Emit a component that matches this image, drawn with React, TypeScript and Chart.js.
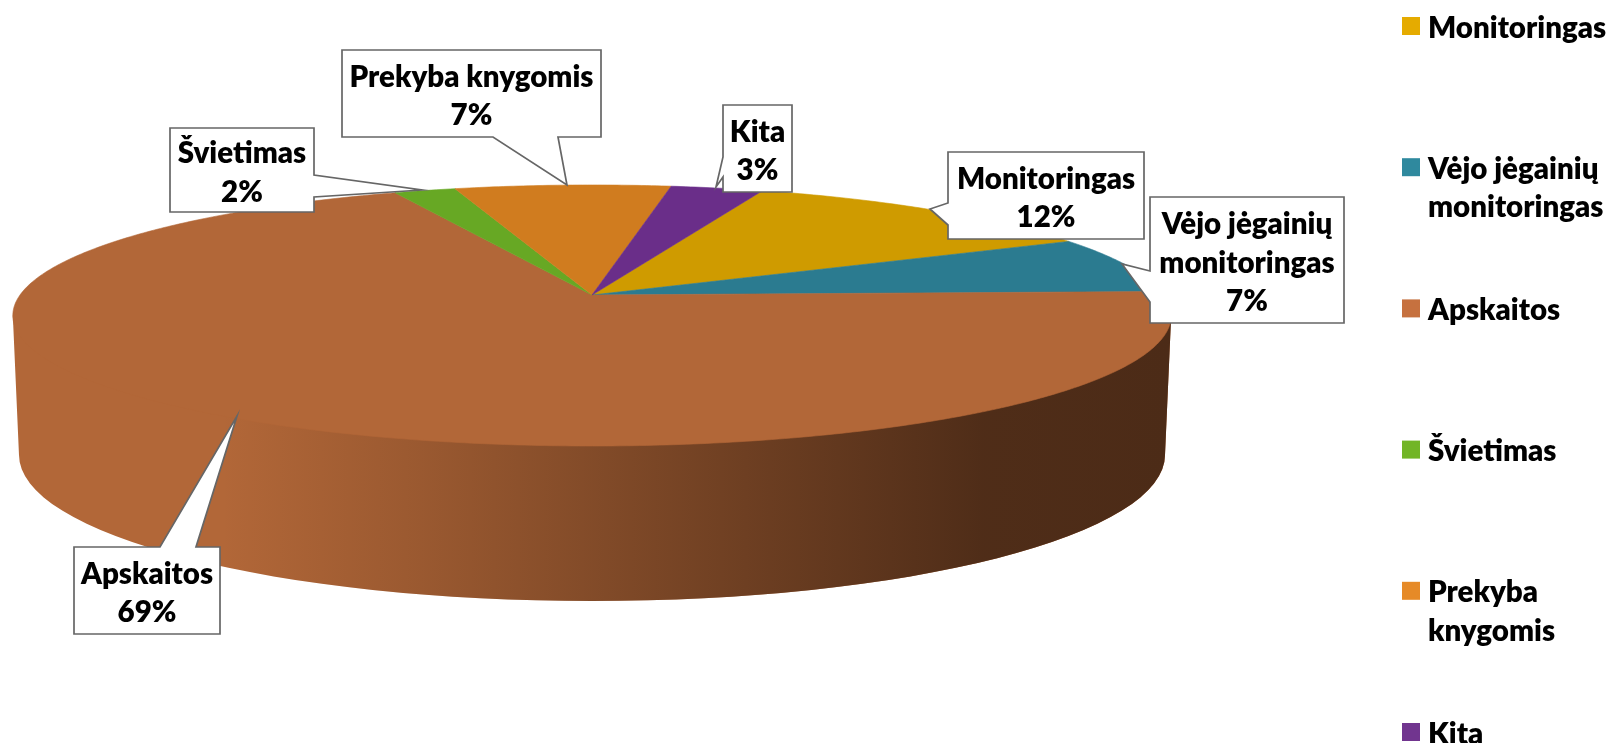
import React, { useEffect, useRef } from "react";
import { Chart, ArcElement, PieController, registerables } from "chart.js";

const categories = ["Monitoringas", "Vėjo jėgainių monitoringas", "Apskaitos", "Švietimas", "Prekyba knygomis", "Kita"];
const shares = [12, 7, 69, 2, 7, 3];
const sliceColors = ["#cf9b00", "#2b7b90", "#b26738", "#67a824", "#d07c1f", "#6a2e89"];
const legendColors = ["#e5ab00", "#2f899e", "#c6713f", "#72b526", "#e68a27", "#71358f"];
const legendLines = [["Monitoringas"], ["Vėjo jėgainių", "monitoringas"], ["Apskaitos"], ["Švietimas"], ["Prekyba", "knygomis"], ["Kita"]];
const calloutLines = [["Monitoringas"], ["Vėjo jėgainių", "monitoringas"], ["Apskaitos"], ["Švietimas"], ["Prekyba knygomis"], ["Kita"]];

const FONT = '800 29.5px Lato, "Open Sans", sans-serif';
const K = 0.157;
const SX = 572 / 295;
const SY = 127.3 / 295;

function project(el: any, a: number, t = 1) {
  const R = el.outerRadius;
  const u = Math.cos(a) * t;
  const v = -Math.sin(a) * t;
  const w = 1 + K * v;
  return { x: el.x + (SX * R * u) / w, y: el.y - (SY * R * v) / w };
}

class Arc3D extends ArcElement {
  static id = "arc3d";
  draw(ctx: CanvasRenderingContext2D) {
    const el: any = this;
    const steps = Math.max(2, Math.ceil((el.endAngle - el.startAngle) / 0.01));
    ctx.save();
    ctx.beginPath();
    ctx.moveTo(el.x, el.y);
    for (let i = 0; i <= steps; i++) {
      const p = project(el, el.startAngle + ((el.endAngle - el.startAngle) * i) / steps);
      ctx.lineTo(p.x, p.y);
    }
    ctx.closePath();
    ctx.fillStyle = el.options.backgroundColor;
    ctx.strokeStyle = el.options.backgroundColor;
    ctx.lineWidth = 0.6;
    ctx.fill();
    ctx.stroke();
    ctx.restore();
  }
}

class Pie3D extends PieController {
  static id = "pie3d";
  static defaults = { dataElementType: "arc3d" };
}

Chart.register(...registerables, Arc3D, Pie3D);

// Side wall of the disc, under the top face. Its upper edge runs just inside
// the top face's rim so that no light antialiased seam shows between them.
const wallPlugin = {
  id: "wall",
  beforeDatasetsDraw(chart: any) {
    const el = chart.getDatasetMeta(0).data[0];
    if (!el) return;
    const ctx = chart.ctx;
    const g = ctx.createLinearGradient(0, 0, 1170, 0);
    g.addColorStop(0.19, "rgba(76,43,23,0)");
    g.addColorStop(0.36, "rgba(76,43,23,0.235)");
    g.addColorStop(0.6, "rgba(76,43,23,0.61)");
    g.addColorStop(0.84, "rgba(76,43,23,0.97)");
    g.addColorStop(1, "rgba(76,43,23,1)");
    ctx.save();
    ctx.beginPath();
    const a0 = Math.asin(K);
    const a1 = Math.PI - a0;
    const first = project(el, a0);
    const last = project(el, a1);
    ctx.moveTo(first.x, first.y);
    for (let i = 0; i <= 400; i++) {
      const p = project(el, a0 + ((a1 - a0) * i) / 400, 0.97);
      ctx.lineTo(p.x, p.y);
    }
    ctx.lineTo(last.x, last.y);
    ctx.ellipse(592, 455, 573, 146, 0, Math.PI, 0, true);
    ctx.closePath();
    ctx.fillStyle = sliceColors[2];
    ctx.fill();
    ctx.fillStyle = g;
    ctx.fill();
    ctx.restore();
  },
};

// index into categories, box [left, top, right, bottom], pointer polygon points
const callouts: { i: number; box: number[]; ptr: number[][]; side: "t" | "r" | "b" | "l" }[] = [
  { i: 3, box: [170, 128, 314, 212], side: "r", ptr: [[314, 175], [422, 190], [314, 197]] },
  { i: 4, box: [342, 50, 601, 137], side: "b", ptr: [[558, 137], [567, 185], [493, 137]] },
  { i: 5, box: [723, 105, 792, 192], side: "l", ptr: [[723, 177], [716, 187], [723, 157]] },
  { i: 0, box: [948, 152, 1144, 239], side: "l", ptr: [[948, 225], [930, 209], [948, 203]] },
  { i: 1, box: [1150, 197, 1344, 323], side: "l", ptr: [[1150, 302], [1122, 264], [1150, 271]] },
  { i: 2, box: [74, 547, 220, 634], side: "t", ptr: [[160, 547], [237, 416], [196, 547]] },
];

const labelPlugin = {
  id: "labels",
  afterDatasetsDraw(chart: any) {
    const ctx = chart.ctx;
    ctx.save();
    for (const c of callouts) {
      const [l, t, r, b] = c.box;
      ctx.beginPath();
      ctx.moveTo(l, t);
      if (c.side === "t") c.ptr.forEach((p) => ctx.lineTo(p[0], p[1]));
      ctx.lineTo(r, t);
      if (c.side === "r") c.ptr.forEach((p) => ctx.lineTo(p[0], p[1]));
      ctx.lineTo(r, b);
      if (c.side === "b") c.ptr.forEach((p) => ctx.lineTo(p[0], p[1]));
      ctx.lineTo(l, b);
      if (c.side === "l") c.ptr.forEach((p) => ctx.lineTo(p[0], p[1]));
      ctx.closePath();
      ctx.fillStyle = "#ffffff";
      ctx.strokeStyle = "#666666";
      ctx.lineWidth = 1.7;
      ctx.lineJoin = "miter";
      ctx.fill();
      ctx.stroke();
      const lines = [...calloutLines[c.i], `${shares[c.i]}%`];
      const cy = (t + b) / 2 + 3;
      const cx = (l + r) / 2;
      ctx.fillStyle = "#000000";
      ctx.font = FONT;
      ctx.textAlign = "center";
      ctx.textBaseline = "middle";
      lines.forEach((s, k) => ctx.fillText(s, cx, cy + (k - (lines.length - 1) / 2) * 38.5));
    }
    categories.forEach((_, i) => {
      const top = 17 + 141.2 * i;
      ctx.fillStyle = legendColors[i];
      ctx.fillRect(1402, top, 18, 18);
      ctx.fillStyle = "#000000";
      ctx.font = FONT;
      ctx.textAlign = "left";
      ctx.textBaseline = "middle";
      legendLines[i].forEach((s, k) => ctx.fillText(s, 1428, top + 11 + k * 38.5));
    });
    ctx.restore();
  },
};

export default function App() {
  const ref = useRef<HTMLCanvasElement>(null);
  useEffect(() => {
    const chart = new Chart(ref.current as HTMLCanvasElement, {
      type: "pie3d" as any,
      data: {
        labels: categories,
        datasets: [{ data: shares, backgroundColor: sliceColors, borderWidth: 0 }],
      },
      options: {
        animation: false,
        responsive: false,
        maintainAspectRatio: false,
        rotation: 20,
        layout: { padding: { left: 0, top: 0, right: 426, bottom: 153 } },
        plugins: { legend: { display: false }, tooltip: { enabled: false } },
      } as any,
      plugins: [wallPlugin, labelPlugin],
    });
    return () => chart.destroy();
  }, []);
  return (
    <div style={{ position: "absolute", left: 0, top: 0, width: 1610, height: 743, background: "#fff", overflow: "hidden" }}>
      <canvas ref={ref} width={1610} height={743} style={{ display: "block" }} />
    </div>
  );
}
